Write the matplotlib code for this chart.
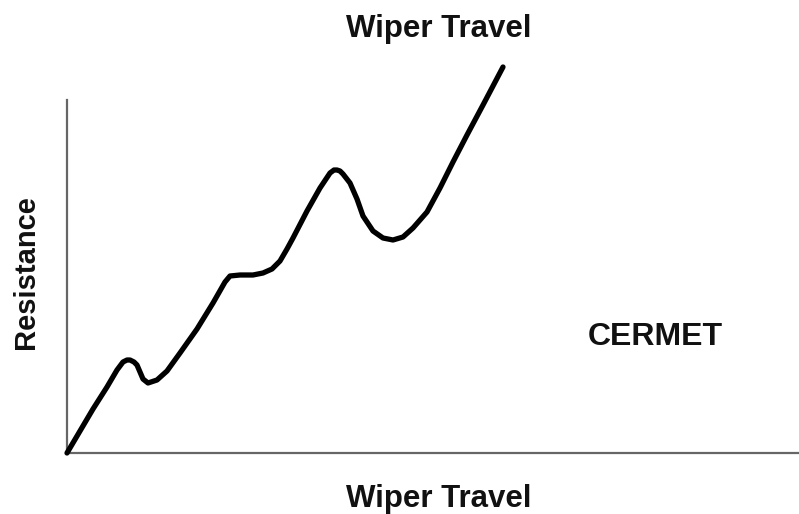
import matplotlib
matplotlib.use("Agg")
import matplotlib.pyplot as plt

# Curve (x = wiper travel, y = resistance, arbitrary units)
travel = [0, 13, 26, 40, 50, 56, 60, 63, 67, 70, 73, 76, 81, 90, 100, 113, 130, 146,
          158, 163, 173, 186, 196, 205, 213, 220, 226, 240, 253, 263, 267, 270, 273,
          276, 283, 290, 296, 306, 316, 326, 336, 346, 360, 373, 386, 400, 416, 436]
resistance = [0, 22, 44, 66, 83, 91, 93, 93, 91, 88, 81, 74, 70, 73, 82, 100, 124, 150,
              171, 177, 178, 178, 180, 184, 192, 204, 215, 242, 265, 280, 283, 283, 282,
              279, 270, 254, 237, 222, 215, 213, 216, 225, 241, 265, 291, 318, 348, 386]

title_text = "Wiper Travel"
xlabel_text = "Wiper Travel"
ylabel_text = "Resistance"
note_text = "CERMET"

W, H = 799, 514
fig = plt.figure(figsize=(W / 100, H / 100), dpi=100)
ax = fig.add_axes([67 / W, (H - 453) / H, (W - 67) / W, (453 - 100) / H])
ax.set_xlim(0, W - 67)
ax.set_ylim(0, 353)

ax.plot(travel, resistance, color="black", lw=3.8, solid_capstyle="round",
        solid_joinstyle="round", clip_on=False, zorder=3)

for s in ["top", "right"]:
    ax.spines[s].set_visible(False)
for s in ["left", "bottom"]:
    ax.spines[s].set_color("#666666")
    ax.spines[s].set_linewidth(1.6)
ax.set_xticks([])
ax.set_yticks([])

font = dict(family="Liberation Sans", weight="bold", color="#111111")
fig.text(438.5 / W, 1 - 37 / H, title_text, ha="center", va="baseline", fontsize=22.5, **font)
fig.text(438.5 / W, 1 - 507 / H, xlabel_text, ha="center", va="baseline", fontsize=22.5, **font)
fig.text(12 / W, 1 - 272.5 / H, ylabel_text, ha="left", va="center", rotation=90,
         fontsize=21, **font)
fig.text(655 / W, 1 - 345 / H, note_text, ha="center", va="baseline", fontsize=23, **font)

fig.savefig("out.png", dpi=100, facecolor="white")
